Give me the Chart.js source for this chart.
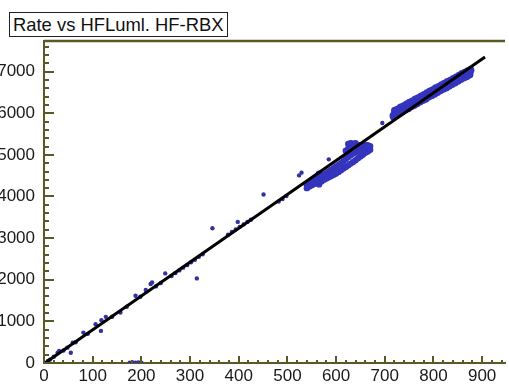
<!DOCTYPE html>
<html>
<head>
<meta charset="utf-8">
<script src="https://cdn.jsdelivr.net/npm/chart.js@4.4.1/dist/chart.umd.min.js"></script>
<style>
  html, body { margin: 0; padding: 0; background: #fff; }
  #wrap { position: relative; width: 509px; height: 386px; overflow: hidden; }
  #title {
    position: absolute; left: 9px; top: 12px; height: 23px; padding: 0 3px;
    border: 1.5px solid #222; background: #fff; color: #111;
    font: 18.4px "Liberation Sans", Arial, sans-serif; line-height: 23px;
  }
</style>
</head>
<body>
<div id="wrap">
  <canvas id="chart" width="509" height="386"></canvas>
  <div id="title">Rate vs HFLuml. HF-RBX</div>
</div>
<script>
// tick labels
const xTickValues = [0, 100, 200, 300, 400, 500, 600, 700, 800, 900];
const yTickValues = [0, 1000, 2000, 3000, 4000, 5000, 6000, 7000];

// upper dense band (HF-RBX ~ 720-880)
const bandHighX = [718, 721, 724, 727, 730, 733, 736, 739, 742, 745, 748, 751, 754, 757, 760, 763, 766, 769, 772, 775,
  778, 781, 784, 787, 790, 793, 796, 799, 802, 805, 808, 811, 814, 817, 820, 823, 826, 829, 832, 835,
  838, 841, 844, 847, 850, 853, 856, 859, 862, 865, 868, 871, 874, 876];
const bandHighY = [5940, 6060, 5970, 6090, 6010, 6140, 6050, 6170, 6090, 6210, 6120, 6250, 6170, 6280, 6200, 6330, 6240, 6360, 6280, 6400,
  6320, 6440, 6350, 6480, 6400, 6520, 6430, 6550, 6470, 6600, 6510, 6630, 6550, 6670, 6590, 6710, 6620, 6750, 6660, 6780,
  6700, 6820, 6740, 6860, 6780, 6900, 6820, 6940, 6860, 6970, 6890, 7010, 6930, 7030];

// middle dense band (HF-RBX ~ 540-670)
const bandMidX = [540, 540, 545, 545, 550, 550, 555, 555, 560, 560, 565, 565, 565, 565, 570, 570, 575, 575, 580, 580,
  585, 585, 590, 590, 595, 595, 600, 600, 605, 605, 610, 610, 615, 615, 620, 620, 620, 625, 625, 625,
  625, 630, 630, 630, 630, 635, 635, 635, 635, 640, 640, 640, 640, 645, 645, 645, 650, 650, 650, 655,
  655, 655, 660, 660, 660, 665, 665, 665, 670, 670];
const bandMidY = [4200, 4270, 4240, 4320, 4270, 4360, 4300, 4400, 4330, 4440, 4290, 4370, 4470, 4550, 4360, 4500, 4400, 4530, 4430, 4560,
  4460, 4600, 4490, 4640, 4520, 4680, 4550, 4720, 4590, 4760, 4630, 4800, 4670, 4850, 4710, 4900, 5100, 4750, 4950, 5150,
  5260, 4790, 4990, 5180, 5280, 4830, 5030, 5200, 5270, 4870, 5060, 5220, 5280, 4920, 5090, 5220, 4960, 5120, 5230, 5000,
  5150, 5220, 5050, 5170, 5230, 5080, 5190, 5230, 5120, 5210];

// scattered points and on-line points
const scatterX = [8, 12, 20, 28, 31, 40, 48, 55, 59, 65, 81, 90, 106, 117, 118, 127, 140, 157, 170, 176,
  182, 188, 188, 194, 198, 200, 209, 219, 222, 230, 240, 249, 262, 270, 278, 286, 294, 302, 310, 314,
  318, 326, 346, 378, 386, 394, 398, 402, 410, 418, 425, 451, 482, 490, 498, 524, 529, 585, 695, 716];
const scatterY = [48, 80, 150, 248, 289, 300, 369, 248, 489, 500, 730, 700, 932, 771, 1029, 1109, 1110, 1212, 1350, 10,
  15, 1615, 10, 15, 1591, 10, 1752, 1897, 1935, 1840, 1920, 2152, 2090, 2160, 2225, 2290, 2350, 2420, 2480, 2032,
  2550, 2610, 3237, 3080, 3150, 3210, 3390, 3270, 3330, 3390, 3440, 4049, 3880, 3940, 4010, 4507, 4572, 4892, 5767, 5880];

// fitted line end points
const fitX = [2, 906];
const fitY = [0, 7349];

const axisColor = "#5a5826";
const pointColor = "rgb(52, 52, 190)";
const font = { family: "'Liberation Sans', Arial, sans-serif", size: 17 };

const toPoints = (xs, ys) => xs.map((x, i) => ({ x, y: ys[i] }));

// tick marks drawn inside the frame, ROOT style
const innerTicks = {
  id: "innerTicks",
  afterDraw(chart) {
    const { ctx, chartArea, scales } = chart;
    const { left, right, top, bottom } = chartArea;
    ctx.save();
    ctx.strokeStyle = axisColor;
    ctx.lineWidth = 2;
    ctx.beginPath();
    for (let v = 0; v <= scales.y.max; v += 200) {
      const py = Math.round(scales.y.getPixelForValue(v));
      const len = v % 1000 === 0 ? 10 : 5;
      ctx.moveTo(left, py);
      ctx.lineTo(left + len, py);
    }
    for (let v = 0; v <= scales.x.max; v += 20) {
      const px = Math.round(scales.x.getPixelForValue(v));
      const len = v % 100 === 0 ? 7 : 3;
      ctx.moveTo(px, bottom);
      ctx.lineTo(px, bottom - len);
    }
    ctx.stroke();
    // top frame
    ctx.lineWidth = 2.5;
    ctx.beginPath();
    ctx.moveTo(left, top);
    ctx.lineTo(right, top);
    ctx.stroke();
    ctx.restore();
  },
};

new Chart(document.getElementById("chart"), {
  type: "scatter",
  data: {
    datasets: [
      {
        label: "fit",
        data: toPoints(fitX, fitY),
        showLine: true,
        borderColor: "#000",
        borderWidth: 3,
        pointRadius: 0,
        order: 0,
      },
      {
        label: "band high",
        data: toPoints(bandHighX, bandHighY),
        backgroundColor: pointColor,
        borderWidth: 0,
        pointRadius: 4,
        order: 1,
      },
      {
        label: "band mid",
        data: toPoints(bandMidX, bandMidY),
        backgroundColor: pointColor,
        borderWidth: 0,
        pointRadius: 3.2,
        order: 1,
      },
      {
        label: "points",
        data: toPoints(scatterX, scatterY),
        backgroundColor: "rgb(50, 50, 160)",
        borderWidth: 0,
        pointRadius: 2.2,
        order: 1,
      },
    ],
  },
  options: {
    responsive: false,
    animation: false,
    devicePixelRatio: 1,
    layout: { padding: { top: 41, right: 0, left: 0, bottom: 0 } },
    plugins: {
      legend: { display: false },
      tooltip: { enabled: false },
    },
    scales: {
      x: {
        min: 0,
        max: 947,
        afterBuildTicks: (scale) => {
          scale.ticks = xTickValues.map((value) => ({ value }));
        },
        afterFit: (scale) => {
          scale.height = 23;
        },
        grid: { display: false, drawTicks: false },
        border: { display: true, color: axisColor, width: 2 },
        ticks: { color: "#1a1a1a", font, padding: 3, maxRotation: 0, callback: (v) => String(v) },
      },
      y: {
        min: 0,
        max: 7735,
        afterBuildTicks: (scale) => {
          scale.ticks = yTickValues.map((value) => ({ value }));
        },
        afterFit: (scale) => {
          scale.width = 44;
        },
        grid: { display: false, drawTicks: false },
        border: { display: true, color: axisColor, width: 2 },
        ticks: { color: "#1a1a1a", font, padding: 9, callback: (v) => String(v) },
      },
    },
  },
  plugins: [innerTicks],
});
</script>
</body>
</html>
